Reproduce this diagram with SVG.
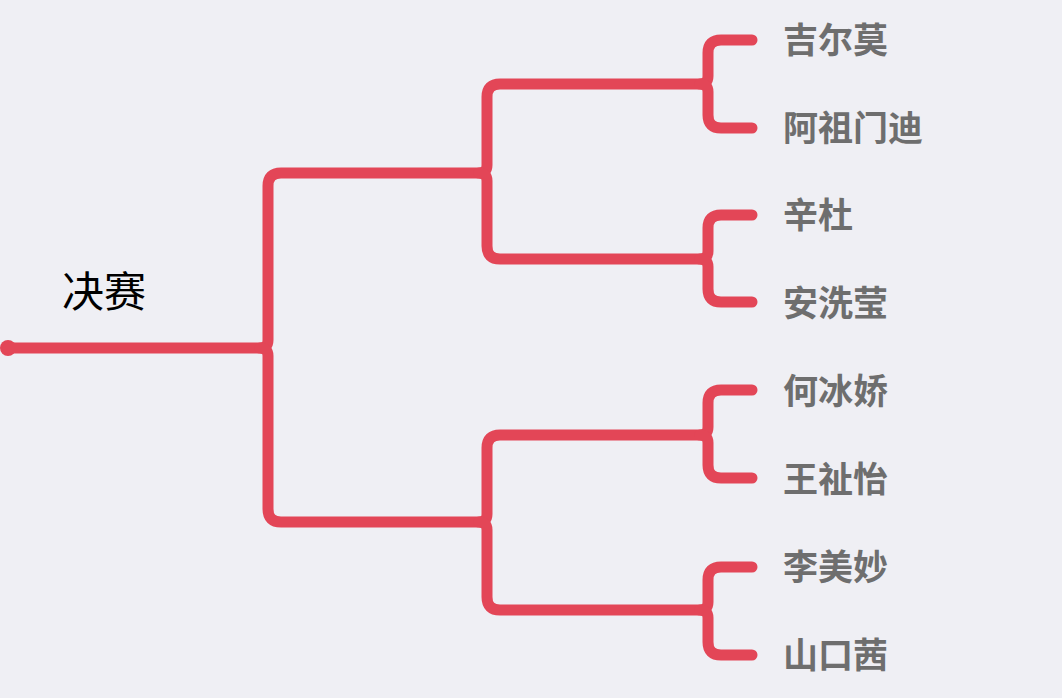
<svg xmlns="http://www.w3.org/2000/svg" width="1062" height="698" viewBox="0 0 1062 698">
<style>
.c{fill:none;stroke:#e34657;stroke-width:11;stroke-linecap:round;stroke-linejoin:round}
.l{font-family:"Noto Sans CJK SC",sans-serif;font-size:35px;font-weight:bold;fill:#6e6e6e}
.r{font-family:"Noto Sans CJK SC",sans-serif;font-size:42px;fill:#000}
</style>
<rect width="1062" height="698" fill="#efeff4"/>
<g id="connectors">
<circle cx="8" cy="348" r="8" fill="#e34657"/>
<path class="c" d="M8,348 H260 Q268,348 268,340 V186 Q268,173 281,173 H479 Q487,173 487,165 V97 Q487,84 500,84 H700 Q708,84 708,76 V53 Q708,40 721,40 H752"/>
<path class="c" d="M700,84 Q708,84 708,92 V115 Q708,128 721,128 H752"/>
<path class="c" d="M479,173 Q487,173 487,181 V246 Q487,259 500,259 H700 Q708,259 708,251 V228 Q708,215 721,215 H752"/>
<path class="c" d="M700,259 Q708,259 708,267 V289 Q708,302 721,302 H752"/>
<path class="c" d="M260,348 Q268,348 268,356 V509 Q268,522 281,522 H479 Q487,522 487,514 V448 Q487,435 500,435 H700 Q708,435 708,427 V403 Q708,390 721,390 H752"/>
<path class="c" d="M700,435 Q708,435 708,443 V465 Q708,478 721,478 H752"/>
<path class="c" d="M479,522 Q487,522 487,530 V597 Q487,610 500,610 H700 Q708,610 708,602 V580 Q708,567 721,567 H752"/>
<path class="c" d="M700,610 Q708,610 708,618 V642 Q708,655 721,655 H752"/>
</g>
<g id="root"><text class="r" x="62" y="307">决赛</text></g>
<g id="n1"><text class="l" x="783" y="53">吉尔莫</text></g>
<g id="n2"><text class="l" x="783" y="141">阿祖门迪</text></g>
<g id="n3"><text class="l" x="783" y="228">辛杜</text></g>
<g id="n4"><text class="l" x="783" y="316">安洗莹</text></g>
<g id="n5"><text class="l" x="783" y="404">何冰娇</text></g>
<g id="n6"><text class="l" x="783" y="492">王祉怡</text></g>
<g id="n7"><text class="l" x="783" y="580">李美妙</text></g>
<g id="n8"><text class="l" x="783" y="668">山口茜</text></g>
</svg>
